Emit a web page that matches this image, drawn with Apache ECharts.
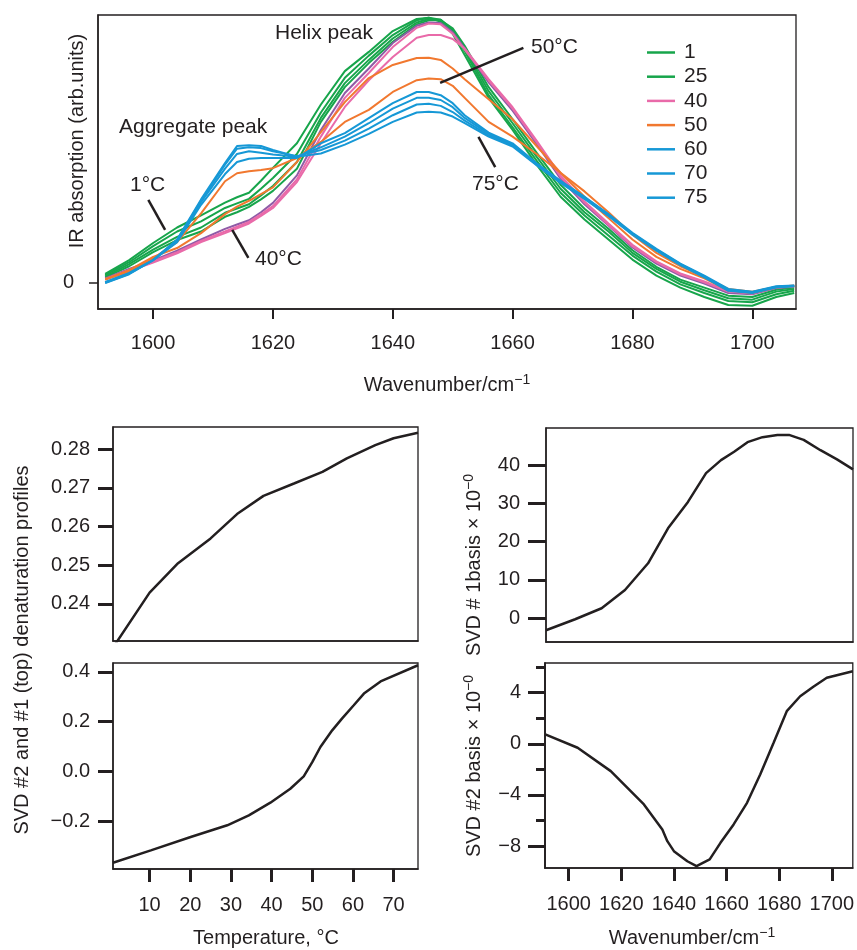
<!DOCTYPE html>
<html><head><meta charset="utf-8">
<script src="https://cdn.jsdelivr.net/npm/echarts@6/dist/echarts.min.js"></script>
<style>html,body{margin:0;padding:0;background:#fff}#c{width:857px;height:950px}</style>
</head><body><div id="c"></div><script>
// ---------- DATA ----------
const wavenumbers = [1592,1596,1600,1604,1608,1612,1614,1616,1618,1620,1624,1628,1632,1636,1640,1644,1646,1648,1650,1652,1656,1660,1664,1668,1672,1676,1680,1684,1688,1692,1696,1700,1704,1707];
const absT1  = [0.031,0.083,0.147,0.205,0.250,0.298,0.318,0.335,0.380,0.428,0.520,0.665,0.790,0.862,0.940,0.985,0.990,0.975,0.930,0.850,0.690,0.570,0.440,0.320,0.235,0.160,0.085,0.025,-0.020,-0.055,-0.085,-0.088,-0.055,-0.040];
const absT10 = [0.027,0.075,0.135,0.190,0.228,0.278,0.295,0.312,0.350,0.390,0.480,0.635,0.765,0.848,0.925,0.980,0.990,0.982,0.940,0.865,0.700,0.580,0.455,0.335,0.250,0.175,0.100,0.040,-0.008,-0.040,-0.070,-0.075,-0.045,-0.032];
const absT20 = [0.022,0.068,0.122,0.170,0.205,0.260,0.276,0.292,0.325,0.360,0.450,0.615,0.745,0.832,0.912,0.972,0.985,0.982,0.945,0.875,0.715,0.595,0.470,0.350,0.262,0.190,0.110,0.050,0.002,-0.030,-0.060,-0.065,-0.035,-0.025];
const absT25 = [0.018,0.060,0.113,0.158,0.190,0.245,0.262,0.282,0.310,0.342,0.425,0.600,0.730,0.820,0.900,0.965,0.980,0.980,0.950,0.885,0.730,0.610,0.485,0.365,0.275,0.200,0.120,0.058,0.010,-0.020,-0.050,-0.055,-0.028,-0.020];
const absT30 = [0.014,0.050,0.082,0.118,0.160,0.200,0.216,0.232,0.262,0.297,0.400,0.570,0.708,0.800,0.895,0.960,0.972,0.970,0.935,0.875,0.748,0.642,0.518,0.388,0.292,0.212,0.130,0.070,0.025,-0.005,-0.040,-0.045,-0.022,-0.016];
const absT35 = [0.012,0.046,0.078,0.113,0.155,0.190,0.208,0.226,0.254,0.285,0.385,0.545,0.690,0.783,0.880,0.952,0.968,0.965,0.930,0.870,0.755,0.650,0.525,0.395,0.298,0.215,0.135,0.075,0.030,0.000,-0.035,-0.042,-0.020,-0.015];
const absT40 = [0.010,0.042,0.074,0.108,0.150,0.184,0.202,0.220,0.248,0.278,0.375,0.520,0.656,0.756,0.843,0.915,0.925,0.925,0.910,0.875,0.760,0.655,0.530,0.400,0.302,0.220,0.140,0.078,0.033,0.003,-0.032,-0.040,-0.018,-0.014];
const absT45 = [0.012,0.045,0.095,0.128,0.184,0.255,0.283,0.305,0.330,0.355,0.450,0.562,0.674,0.764,0.813,0.839,0.840,0.832,0.800,0.760,0.685,0.610,0.510,0.410,0.320,0.240,0.160,0.095,0.050,0.015,-0.030,-0.040,-0.020,-0.015];
const absT50 = [0.010,0.040,0.090,0.150,0.258,0.378,0.408,0.415,0.420,0.427,0.465,0.525,0.600,0.645,0.712,0.756,0.762,0.760,0.735,0.690,0.600,0.545,0.480,0.410,0.340,0.262,0.178,0.110,0.060,0.020,-0.025,-0.035,-0.018,-0.012];
const absT60 = [0.000,0.035,0.083,0.150,0.290,0.405,0.450,0.462,0.465,0.465,0.465,0.520,0.558,0.614,0.670,0.712,0.712,0.700,0.670,0.625,0.560,0.520,0.445,0.380,0.320,0.255,0.185,0.125,0.070,0.025,-0.025,-0.035,-0.015,-0.012];
const absT65 = [0.000,0.033,0.083,0.155,0.300,0.425,0.480,0.490,0.485,0.478,0.470,0.505,0.545,0.595,0.650,0.690,0.690,0.682,0.655,0.615,0.555,0.515,0.443,0.378,0.318,0.252,0.182,0.122,0.068,0.022,-0.028,-0.037,-0.017,-0.013];
const absT70 = [-0.002,0.032,0.083,0.158,0.305,0.440,0.500,0.505,0.502,0.490,0.472,0.495,0.530,0.575,0.625,0.665,0.668,0.660,0.637,0.605,0.550,0.512,0.440,0.375,0.315,0.250,0.180,0.120,0.066,0.020,-0.030,-0.038,-0.018,-0.014];
const absT75 = [-0.003,0.030,0.083,0.160,0.310,0.446,0.510,0.513,0.510,0.495,0.470,0.482,0.515,0.555,0.600,0.635,0.638,0.635,0.620,0.595,0.545,0.508,0.438,0.372,0.312,0.248,0.178,0.118,0.064,0.018,-0.032,-0.040,-0.020,-0.015];

const legendNames = ['1','25','40','50','60','70','75'];
const topXTicks = [1600,1620,1640,1660,1680,1700];
const topYTicks = [0];

const svd1Temp = [1,10,17,25,31.5,38,45.5,52.5,58.5,65.5,70,76];
const svd1Vals = [0.2287,0.2429,0.2505,0.2569,0.2632,0.2679,0.2711,0.2741,0.2776,0.2810,0.2828,0.2842];
const svd2Temp = [1,10.3,20.1,29.1,34.4,39.7,44.6,47.9,50,52,54.9,57.3,60.2,62.7,66.8,76];
const svd2Vals = [-0.368,-0.318,-0.264,-0.217,-0.177,-0.126,-0.070,-0.020,0.037,0.098,0.165,0.212,0.266,0.313,0.362,0.427];
const basis1Wn   = [1591,1602.1,1612.2,1621.1,1629.9,1637.5,1645.1,1652,1657.7,1662.7,1667.8,1673.5,1679.2,1683.6,1689.2,1695.6,1701.9,1708];
const basis1Vals = [-3.13,-0.26,2.61,7.39,14.36,23.5,30.4,37.9,41.3,43.5,46.0,47.3,47.9,47.9,46.6,43.9,41.5,38.9];
const basis2Wn   = [1591.1,1603.4,1616,1628.6,1635.6,1637.5,1640,1645.1,1648.6,1653.6,1657.7,1662.7,1667.8,1672.8,1677.9,1682.9,1688,1693,1698.1,1708];
const basis2Vals = [0.73,-0.31,-2.14,-4.75,-6.71,-7.62,-8.40,-9.19,-9.58,-9.05,-7.75,-6.31,-4.62,-2.40,0.08,2.55,3.72,4.46,5.16,5.68];

const tempTicks = [10,20,30,40,50,60,70];
const svd1Ticks = [0.24,0.25,0.26,0.27,0.28];
const svd2Ticks = [-0.2,0,0.2,0.4];
const basis1Ticks = [0,10,20,30,40];
const basis2LabelTicks = [-8,-4,0,4];
const basis2AllTicks = [-8,-6,-4,-2,0,2,4,6];
const wnTicks = [1600,1620,1640,1660,1680,1700];

// annotation pointer segments (data coordinates of the top panel)
const pointer1C  = [[1599.2,0.308],[1602.0,0.196]];
const pointer40C = [[1613.2,0.196],[1615.9,0.091]];
const pointer50C = [[1647.9,0.746],[1661.8,0.877]];
const pointer75C = [[1654.3,0.544],[1657.1,0.431]];

// ---------- STYLE ----------
const TXT = '#231f20';
const FONT = '"Liberation Sans", Arial, sans-serif';
const GREEN = '#17a54b', PURPLE = '#8f5ba7', PINK = '#e96aa9', ORANGE = '#f1782f', BLUE = '#1698d6';
const spectra = [
  {name:'1', vals:absT1, color:GREEN},
  {name:'10', vals:absT10, color:GREEN},
  {name:'20', vals:absT20, color:GREEN},
  {name:'25', vals:absT25, color:GREEN},
  {name:'30', vals:absT30, color:PURPLE},
  {name:'35', vals:absT35, color:PINK},
  {name:'40', vals:absT40, color:PINK},
  {name:'45', vals:absT45, color:ORANGE},
  {name:'50', vals:absT50, color:ORANGE},
  {name:'60', vals:absT60, color:BLUE},
  {name:'65', vals:absT65, color:BLUE},
  {name:'70', vals:absT70, color:BLUE},
  {name:'75', vals:absT75, color:BLUE}
];

const minus = v => String(v).replace('-', '\u2212');
const plain = v => String(v);

function axis(o) {
  return {
    type: 'value', gridIndex: o.grid, min: o.min, max: o.max,
    position: o.position,
    axisLine: {show: true, onZero: false, lineStyle: {color: TXT, width: 1.5}},
    axisTick: {show: !!o.ticks, customValues: o.ticks, inside: false, length: o.tickLen || 10,
               lineStyle: {color: TXT, width: o.tickWidth || 2}},
    axisLabel: {show: !!o.labels, customValues: o.labels, margin: o.margin || 20,
                fontSize: 20, fontFamily: FONT, color: TXT, formatter: o.fmt || plain},
    splitLine: {show: false}
  };
}

const grids = [
  {left: 98, top: 15, width: 698, height: 294},
  {left: 113, top: 427, width: 305, height: 214},
  {left: 113, top: 663, width: 305, height: 206},
  {left: 546, top: 428, width: 307, height: 214},
  {left: 545, top: 663, width: 308, height: 205}
].map(g => Object.assign(g, {show: true, borderColor: TXT, borderWidth: 1.3, backgroundColor: 'transparent'}));

const xAxes = [
  axis({grid:0, min:1590.8, max:1707.3, ticks:topXTicks, labels:topXTicks, tickLen:10, tickWidth:2, margin:24}),
  axis({grid:1, min:1, max:76}),
  axis({grid:2, min:1, max:76, ticks:tempTicks, labels:tempTicks, tickLen:13, tickWidth:3, margin:26}),
  axis({grid:3, min:1591, max:1708}),
  axis({grid:4, min:1591, max:1708, ticks:wnTicks, labels:wnTicks, tickLen:13, tickWidth:3, margin:26})
];
const yAxes = [
  axis({grid:0, min:-0.1, max:1.0, ticks:topYTicks, labels:topYTicks, tickLen:9, tickWidth:1.5, margin:24}),
  axis({grid:1, min:0.2304, max:0.2857, ticks:svd1Ticks, labels:svd1Ticks, tickLen:15, tickWidth:3, margin:23, fmt:v=>(+v).toFixed(2)}),
  axis({grid:2, min:-0.393, max:0.436, ticks:svd2Ticks, labels:svd2Ticks, tickLen:15, tickWidth:3, margin:23, fmt:v=>minus((+v).toFixed(1))}),
  axis({grid:3, min:-6.2, max:49.7, ticks:basis1Ticks, labels:basis1Ticks, tickLen:18, tickWidth:3, margin:26}),
  axis({grid:4, min:-9.72, max:6.32, ticks:basis2AllTicks, tickLen:9, tickWidth:3, position:'left'}),
  axis({grid:4, min:-9.72, max:6.32, ticks:basis2LabelTicks, labels:basis2LabelTicks, tickLen:17, tickWidth:3, margin:24, position:'left', fmt:v=>minus(v)})
];

const series = [];
spectra.forEach(s => series.push({
  type: 'line', name: s.name, xAxisIndex: 0, yAxisIndex: 0, silent: true,
  data: wavenumbers.map((w, i) => [w, s.vals[i]]),
  symbol: 'none', lineStyle: {width: 2, color: s.color}, itemStyle: {color: s.color}
}));
[pointer1C, pointer40C, pointer50C, pointer75C].forEach(p => series.push({
  type: 'line', name: 'pointer', xAxisIndex: 0, yAxisIndex: 0, silent: true, data: p,
  symbol: 'none', lineStyle: {width: 2.5, color: TXT}, itemStyle: {color: TXT}, z: 5
}));
const blk = {symbol: 'none', silent: true, lineStyle: {width: 2.5, color: TXT}, itemStyle: {color: TXT}};
series.push(Object.assign({type:'line', name:'svd1', xAxisIndex:1, yAxisIndex:1, data: svd1Temp.map((t,i)=>[t, svd1Vals[i]])}, blk));
series.push(Object.assign({type:'line', name:'svd2', xAxisIndex:2, yAxisIndex:2, data: svd2Temp.map((t,i)=>[t, svd2Vals[i]])}, blk));
series.push(Object.assign({type:'line', name:'basis1', xAxisIndex:3, yAxisIndex:3, data: basis1Wn.map((w,i)=>[w, basis1Vals[i]])}, blk));
series.push(Object.assign({type:'line', name:'basis2', xAxisIndex:4, yAxisIndex:5, data: basis2Wn.map((w,i)=>[w, basis2Vals[i]])}, blk));

function txt(text, x, y, opt) {
  opt = opt || {};
  const st = {text: text, fill: TXT, font: (opt.size || 21) + 'px ' + FONT,
    align: opt.align || 'left', textAlign: opt.align || 'left',
    verticalAlign: 'middle', textVerticalAlign: 'middle'};
  if (opt.rich) st.rich = opt.rich;
  return {type: 'text', x: x, y: y, rotation: opt.rot || 0, silent: true, z: 10, style: st};
}
const richSup = size => ({
  n: {fontSize: size, fontFamily: FONT, color: TXT, lineHeight: size + 4},
  s: {fontSize: Math.round(size * 0.68), fontFamily: FONT, color: TXT, lineHeight: Math.round(size * 0.68), verticalAlign: 'top'}
});
const R90 = Math.PI / 2;

const graphics = [
  txt('Helix peak', 275, 33),
  txt('Aggregate peak', 119, 127),
  txt('1\u00b0C', 130, 185),
  txt('40\u00b0C', 255, 259),
  txt('50\u00b0C', 531, 47),
  txt('75\u00b0C', 472, 184),
  txt('IR absorption (arb.units)', 77, 141, {align:'center', rot:R90, size:20}),
  txt('{n|Wavenumber/cm}{s|\u22121}', 447, 385, {align:'center', rich: richSup(20), size:20}),
  txt('SVD #2 and #1 (top) denaturation profiles', 22, 650, {align:'center', rot:R90, size:20}),
  txt('Temperature, \u00b0C', 266, 938, {align:'center', size:20}),
  txt('{n|SVD # 1basis \u00d7 10}{s|\u22120}', 474, 565, {align:'center', rot:R90, rich: richSup(20), size:20}),
  txt('{n|SVD #2 basis \u00d7 10}{s|\u22120}', 474, 766, {align:'center', rot:R90, rich: richSup(20), size:20}),
  txt('{n|Wavenumber/cm}{s|\u22121}', 692, 938, {align:'center', rich: richSup(20), size:20})
];

const chart = echarts.init(document.getElementById('c'), null, {renderer: 'canvas'});
chart.setOption({
  animation: false,
  backgroundColor: '#fff',
  textStyle: {fontFamily: FONT},
  grid: grids,
  xAxis: xAxes,
  yAxis: yAxes,
  legend: {
    data: legendNames, orient: 'vertical', left: 642, top: 37, icon: 'rect',
    itemWidth: 28, itemHeight: 2.5, itemGap: 3.2, selectedMode: false,
    textStyle: {fontSize: 21, color: TXT, fontFamily: FONT, lineHeight: 21, padding: [0,0,0,4]}
  },
  series: series,
  graphic: graphics
});
</script></body></html>
